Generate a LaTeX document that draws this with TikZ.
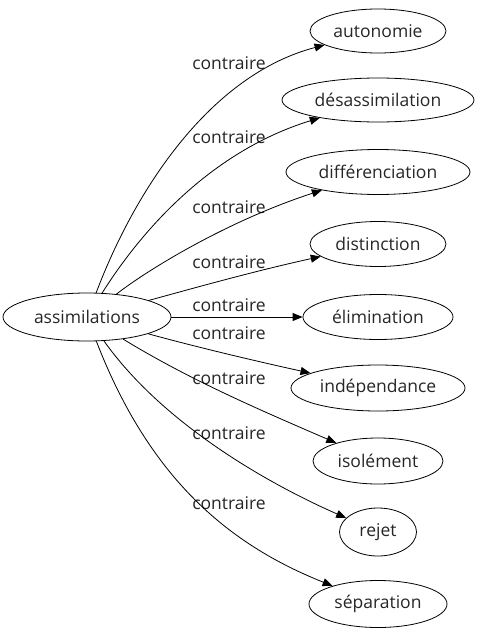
\documentclass[tikz,border=0pt]{standalone}
\usepackage{fontspec}
\setmainfont{Open Sans}
\usetikzlibrary{shapes.geometric,arrows.meta}
\tikzset{
  word/.style={ellipse, draw, line width=0.8pt, inner sep=0pt, font=\fontsize{17.5}{19}\selectfont, text=black!85},
  rel/.style={font=\fontsize{17.5}{19}\selectfont, text=black!85, inner sep=0pt},
  edge/.style={line width=0.8pt, -{Triangle[length=10pt,width=8pt]}},
}
\begin{document}
\begin{tikzpicture}[x=1pt,y=-1pt]
\useasboundingbox (0,0) rectangle (479,635);
\node[word, minimum width=168pt, minimum height=48pt] (src) at (87,317) {assimilations};
\node[word, minimum width=136pt, minimum height=44pt] (t1) at (378,31) {autonomie};
\node[word, minimum width=192pt, minimum height=44pt] (t2) at (378,100) {désassimilation};
\node[word, minimum width=184pt, minimum height=45pt] (t3) at (378,172) {différenciation};
\node[word, minimum width=136pt, minimum height=45pt] (t4) at (378,244) {distinction};
\node[word, minimum width=150pt, minimum height=45pt] (t5) at (378,317) {élimination};
\node[word, minimum width=174pt, minimum height=46pt] (t6) at (378,388) {indépendance};
\node[word, minimum width=130pt, minimum height=46pt] (t7) at (378,461) {isolément};
\node[word, minimum width=77pt, minimum height=48pt] (t8) at (378,532) {rejet};
\node[word, minimum width=138pt, minimum height=47pt] (t9) at (378,604) {séparation};

\node[rel] (l1) at (229,63) {contraire};
\node[rel] (l2) at (229,137) {contraire};
\node[rel] (l3) at (229,207) {contraire};
\node[rel] (l4) at (229,262) {contraire};
\node[rel] (l5) at (229,305) {contraire};
\node[rel] (l6) at (229,333) {contraire};
\node[rel] (l7) at (229,378) {contraire};
\node[rel] (l8) at (229,433) {contraire};
\node[rel] (l9) at (229,503) {contraire};

\draw[edge] (src) .. controls (135,190) and (210,75) .. (t1);
\draw[edge] (src) .. controls (145,225) and (215,150) .. (t2);
\draw[edge] (src) .. controls (150,268) and (230,220) .. (t3);
\draw[edge] (src) .. controls (180,292) and (250,272) .. (t4);
\draw[edge] (src) -- (t5);
\draw[edge] (src) .. controls (200,348) and (260,362) .. (t6);
\draw[edge] (src) .. controls (190,380) and (260,410) .. (t7);
\draw[edge] (src) .. controls (160,420) and (260,480) .. (t8);
\draw[edge] (src) .. controls (150,480) and (230,545) .. (t9);
\end{tikzpicture}
\end{document}
